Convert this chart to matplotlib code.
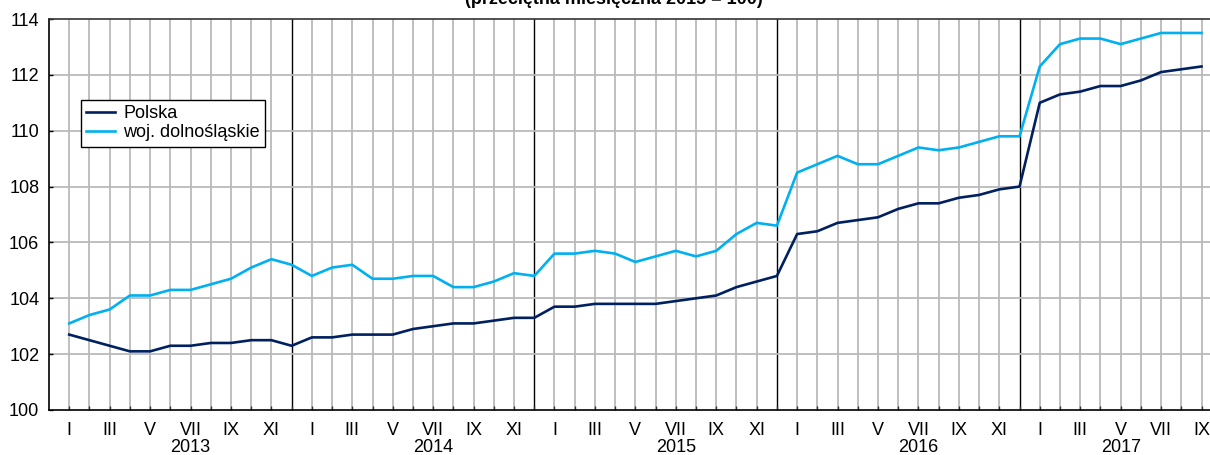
import matplotlib
matplotlib.use("Agg")
import matplotlib.pyplot as plt
import matplotlib.transforms as mtransforms

plt.rcParams['font.family'] = ['Liberation Sans', 'DejaVu Sans']

years = ["2013", "2014", "2015", "2016", "2017"]
roman = ["I", "II", "III", "IV", "V", "VI", "VII", "VIII", "IX", "X", "XI", "XII"]

polska = [102.7, 102.5, 102.3, 102.1, 102.1, 102.3, 102.3, 102.4, 102.4, 102.5, 102.5, 102.3,
          102.6, 102.6, 102.7, 102.7, 102.7, 102.9, 103.0, 103.1, 103.1, 103.2, 103.3, 103.3,
          103.7, 103.7, 103.8, 103.8, 103.8, 103.8, 103.9, 104.0, 104.1, 104.4, 104.6, 104.8,
          106.3, 106.4, 106.7, 106.8, 106.9, 107.2, 107.4, 107.4, 107.6, 107.7, 107.9, 108.0,
          111.0, 111.3, 111.4, 111.6, 111.6, 111.8, 112.1, 112.2, 112.3]
dolnoslaskie = [103.1, 103.4, 103.6, 104.1, 104.1, 104.3, 104.3, 104.5, 104.7, 105.1, 105.4, 105.2,
                104.8, 105.1, 105.2, 104.7, 104.7, 104.8, 104.8, 104.4, 104.4, 104.6, 104.9, 104.8,
                105.6, 105.6, 105.7, 105.6, 105.3, 105.5, 105.7, 105.5, 105.7, 106.3, 106.7, 106.6,
                108.5, 108.8, 109.1, 108.8, 108.8, 109.1, 109.4, 109.3, 109.4, 109.6, 109.8, 109.8,
                112.3, 113.1, 113.3, 113.3, 113.1, 113.3, 113.5, 113.5, 113.5]

series_names = ["Polska", "woj. dolnośląskie"]
series_colors = ["#002060", "#00B0F0"]
title = "(przeciętna miesięczna 2015 = 100)"

n = len(polska)
x = list(range(n))
month_labels = [roman[i % 12] if (i % 12) % 2 == 0 else "" for i in x]

FS = 13
W, H = 1210, 455
fig = plt.figure(figsize=(W / 100, H / 100), dpi=100)
ax = fig.add_axes([49 / W, (H - 410) / H, (W - 49) / W, (410 - 19) / H])

ax.set_xlim(-1, 56.42)
ax.set_ylim(100, 114)

# grid
for xi in x:
    if xi % 12 == 11:
        ax.axvline(xi, color="black", lw=1.0, zorder=1)
    else:
        ax.axvline(xi, color="#bababa", lw=1.3, zorder=1)
for yv in range(102, 114, 2):
    ax.axhline(yv, color="#bababa", lw=1.3, zorder=1)

ax.plot(x, polska, color=series_colors[0], lw=1.9, label=series_names[0], zorder=3)
ax.plot(x, dolnoslaskie, color=series_colors[1], lw=1.9, label=series_names[1], zorder=3)

ax.set_xticks(x)
ax.set_xticklabels(month_labels)
ax.set_yticks(range(100, 115, 2))
ax.tick_params(axis='x', direction='in', length=3, width=1, pad=8.5, labelsize=FS, color="#333333")
ax.tick_params(axis='y', direction='in', length=3, width=1, pad=7, labelsize=FS)

for s in ["left", "bottom"]:
    ax.spines[s].set_color("black")
    ax.spines[s].set_linewidth(1.2)
ax.spines["top"].set_color("#333333")
ax.spines["top"].set_linewidth(1.2)
ax.spines["right"].set_visible(False)

trans = mtransforms.blended_transform_factory(ax.transData, ax.transAxes)
year_pos = [6, 18, 30, 42, 52]
for yr, xp in zip(years, year_pos):
    ax.text(xp, -42.5 / 391, yr, transform=trans, ha="center", va="baseline", fontsize=FS)

leg = ax.legend(loc="upper left", bbox_to_anchor=((81 - 49) / (W - 49), (410 - 100) / 391),
                borderaxespad=0, frameon=True, fancybox=False, shadow=False,
                fontsize=FS, handlelength=1.6, handletextpad=0.45, borderpad=0.3,
                labelspacing=0.1)
leg.get_frame().set_edgecolor("black")
leg.get_frame().set_linewidth(1.0)
leg.get_frame().set_alpha(1)

fig.text(614 / W, 1 - 4 / H, title, ha="center", va="baseline", fontsize=FS, fontweight="bold")

fig.savefig("out.png", dpi=100)
